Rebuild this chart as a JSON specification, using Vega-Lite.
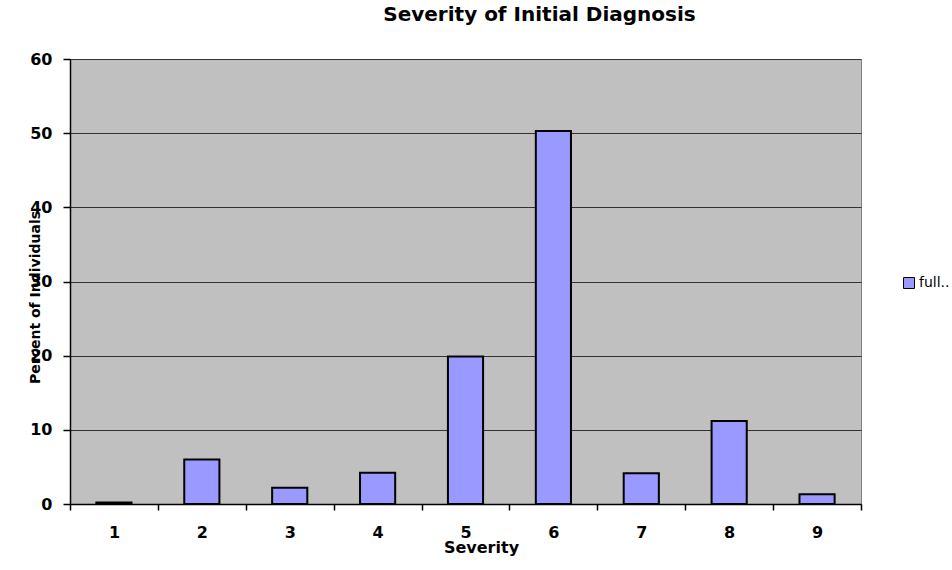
{
  "$schema": "https://vega.github.io/schema/vega-lite/v6.json",
  "autosize": "none",
  "padding": {"left": 70, "top": 59, "right": 91, "bottom": 66},
  "width": 791,
  "height": 445,
  "background": "white",
  "title": {
    "text": "Severity of Initial Diagnosis",
    "font": "DejaVu Sans",
    "fontSize": 20,
    "fontWeight": "bold",
    "color": "black",
    "anchor": "middle",
    "frame": "group",
    "baseline": "alphabetic",
    "offset": 10,
    "dx": 74
  },
  "data": {
    "values": [
      {"severity": "1", "percent": 0.2, "series": "full.."},
      {"severity": "2", "percent": 6.0, "series": "full.."},
      {"severity": "3", "percent": 2.2, "series": "full.."},
      {"severity": "4", "percent": 4.2, "series": "full.."},
      {"severity": "5", "percent": 19.9, "series": "full.."},
      {"severity": "6", "percent": 50.3, "series": "full.."},
      {"severity": "7", "percent": 4.15, "series": "full.."},
      {"severity": "8", "percent": 11.2, "series": "full.."},
      {"severity": "9", "percent": 1.3, "series": "full.."}
    ]
  },
  "mark": {"type": "bar", "width": {"band": 0.4}, "stroke": "black", "strokeWidth": 2},
  "encoding": {
    "x": {
      "field": "severity",
      "type": "ordinal",
      "scale": {"paddingInner": 0, "paddingOuter": 0},
      "axis": {
        "title": "Severity",
        "labelAngle": 0,
        "tickBand": "extent",
        "tickSize": 6,
        "labelPadding": 14,
        "titleX": 411,
        "titleY": 48,
        "titleBaseline": "alphabetic",
        "titleAnchor": "middle",
        "titleAlign": "center"
      }
    },
    "y": {
      "field": "percent",
      "type": "quantitative",
      "scale": {"domain": [0, 60], "nice": false},
      "axis": {
        "title": "Percent of Individuals",
        "values": [0, 10, 20, 30, 40, 50, 60],
        "grid": true,
        "tickSize": 7,
        "labelPadding": 11,
        "titleX": -35,
        "titleY": 238,
        "titleBaseline": "middle",
        "titleAlign": "center",
        "titleAngle": -90
      }
    },
    "fill": {
      "field": "series",
      "type": "nominal",
      "scale": {"range": ["#9999ff"]},
      "legend": {
        "title": null,
        "orient": "none",
        "legendX": 832,
        "legendY": 217,
        "padding": 0,
        "symbolType": "square",
        "symbolSize": 121,
        "symbolStrokeColor": "black",
        "symbolStrokeWidth": 1,
        "labelFont": "DejaVu Sans",
        "labelFontSize": 14,
        "labelColor": "black",
        "labelOffset": 3
      }
    }
  },
  "config": {
    "view": {"fill": "#c0c0c0", "stroke": "#808080", "strokeWidth": 1},
    "axis": {
      "labelFont": "DejaVu Sans",
      "labelFontSize": 16,
      "labelFontWeight": "bold",
      "labelColor": "black",
      "titleFont": "DejaVu Sans",
      "titleFontSize": 16,
      "titleFontWeight": "bold",
      "titleColor": "black",
      "domainColor": "black",
      "domainWidth": 1.5,
      "tickColor": "black",
      "tickWidth": 1.5,
      "gridColor": "#333333",
      "gridWidth": 1,
      "gridOpacity": 1
    },
    "axisY": {"titleFontSize": 14}
  }
}
